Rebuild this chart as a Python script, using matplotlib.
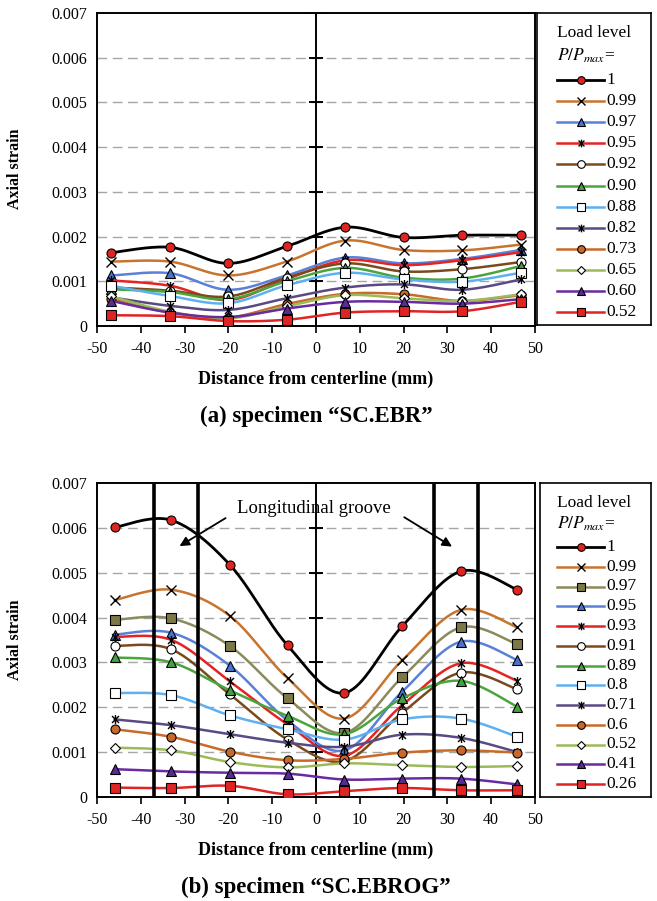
import numpy as np
import matplotlib
matplotlib.use("Agg")
import matplotlib.pyplot as plt
from matplotlib.path import Path

plt.rcParams['font.family'] = ['Liberation Serif', 'DejaVu Serif']
plt.rcParams['mathtext.fontset'] = 'stix'
plt.rcParams['axes.unicode_minus'] = False

# ---- data (strain values in units of 1e-3) ----
x_ebr = [-46.7, -33.3, -20.0, -6.7, 6.7, 20.0, 33.3, 46.7]
loads_ebr = ['1', '0.99', '0.97', '0.95', '0.92', '0.90', '0.88', '0.82',
             '0.73', '0.65', '0.60', '0.52']
strain_ebr = [
    [1.64, 1.76, 1.40, 1.78, 2.21, 1.98, 2.03, 2.03],
    [1.44, 1.44, 1.13, 1.44, 1.91, 1.70, 1.69, 1.82],
    [1.13, 1.18, 0.81, 1.13, 1.53, 1.40, 1.50, 1.70],
    [1.02, 0.90, 0.58, 1.05, 1.47, 1.36, 1.47, 1.65],
    [0.86, 0.79, 0.66, 1.08, 1.40, 1.22, 1.27, 1.43],
    [0.82, 0.76, 0.60, 1.00, 1.30, 1.08, 1.06, 1.34],
    [0.90, 0.67, 0.51, 0.91, 1.19, 1.04, 0.99, 1.19],
    [0.64, 0.45, 0.36, 0.62, 0.86, 0.93, 0.81, 1.04],
    [0.60, 0.30, 0.19, 0.49, 0.72, 0.71, 0.56, 0.69],
    [0.66, 0.32, 0.17, 0.44, 0.69, 0.62, 0.56, 0.71],
    [0.56, 0.30, 0.20, 0.39, 0.54, 0.54, 0.50, 0.60],
    [0.24, 0.22, 0.11, 0.14, 0.30, 0.33, 0.33, 0.54],
]

x_ebrog = [-46.0, -33.0, -19.7, -6.5, 6.5, 19.7, 33.0, 46.0]
loads_ebrog = ['1', '0.99', '0.97', '0.95', '0.93', '0.91', '0.89', '0.8',
               '0.71', '0.6', '0.52', '0.41', '0.26']
strain_ebrog = [
    [6.01, 6.17, 5.18, 3.38, 2.32, 3.81, 5.03, 4.62],
    [4.39, 4.62, 4.04, 2.65, 1.75, 3.05, 4.17, 3.78],
    [3.95, 3.98, 3.37, 2.20, 1.43, 2.67, 3.78, 3.40],
    [3.62, 3.66, 2.93, 1.71, 1.04, 2.35, 3.46, 3.05],
    [3.57, 3.50, 2.58, 1.62, 0.92, 2.05, 2.98, 2.59],
    [3.37, 3.29, 2.29, 1.28, 0.80, 1.88, 2.77, 2.40],
    [3.11, 3.00, 2.38, 1.81, 1.40, 2.20, 2.59, 2.01],
    [2.32, 2.27, 1.82, 1.51, 1.28, 1.73, 1.75, 1.34],
    [1.73, 1.60, 1.40, 1.21, 1.12, 1.39, 1.32, 1.00],
    [1.51, 1.34, 1.01, 0.82, 0.85, 0.99, 1.04, 0.99],
    [1.10, 1.04, 0.78, 0.66, 0.75, 0.71, 0.67, 0.69],
    [0.62, 0.57, 0.54, 0.52, 0.39, 0.41, 0.41, 0.28],
    [0.21, 0.20, 0.25, 0.06, 0.13, 0.20, 0.15, 0.15],
]
grooves = [-37, -27, 27, 37]

# ---- styles ----
ast = Path([(-1, -1), (1, 1), (-1, 1), (1, -1), (0, -1.3), (0, 1.3)],
           [Path.MOVETO, Path.LINETO] * 3)

RED = '#e02424'
black_s = ('#000000', 'o', RED)
orange_x = ('#c8742f', 'x', 'k')
blue_t = ('#5b80d8', '^', '#4a72d0')
red_a = ('#e52323', ast, 'k')
brown_o = ('#7b4a1c', 'o', 'white')
green_t = ('#4aa53e', '^', '#45a040')
lblue_s = ('#5fb0f0', 's', 'white')
purp_a = ('#5a4a84', ast, 'k')
orange_o = ('#c86a28', 'o', '#c8682a')
lgreen_d = ('#9bbb59', 'D', 'white')
purple_t = ('#6a2aa0', '^', '#5a2a98')
red_s = ('#e02424', 's', RED)
olive_s = ('#8a8a5c', 's', '#7c7848')

styles_ebr = [black_s, orange_x, blue_t, red_a, brown_o, green_t, lblue_s,
              purp_a, orange_o, lgreen_d, purple_t, red_s]
styles_ebrog = [black_s, orange_x, olive_s, blue_t, red_a, brown_o, green_t,
                lblue_s, purp_a, orange_o, lgreen_d, purple_t, red_s]


def smooth(x, y, n=40):
    # Excel-like smoothed line (Catmull-Rom bezier through the points)
    x = np.asarray(x, float)
    y = np.asarray(y, float)
    px = np.concatenate([[x[0]], x, [x[-1]]])
    py = np.concatenate([[y[0]], y, [y[-1]]])
    t = np.linspace(0, 1, n)
    xs, ys = [], []
    for i in range(len(x) - 1):
        p0 = np.array([px[i], py[i]])
        p1 = np.array([px[i + 1], py[i + 1]])
        p2 = np.array([px[i + 2], py[i + 2]])
        p3 = np.array([px[i + 3], py[i + 3]])
        c1 = p1 + (p2 - p0) / 6
        c2 = p2 - (p3 - p1) / 6
        b = ((1 - t) ** 3)[:, None] * p1 + (3 * (1 - t) ** 2 * t)[:, None] * c1 \
            + (3 * (1 - t) * t ** 2)[:, None] * c2 + (t ** 3)[:, None] * p2
        xs.append(b[:, 0])
        ys.append(b[:, 1])
    return np.concatenate(xs), np.concatenate(ys)


def mk_kw(st, size):
    col, m, fc = st
    kw = dict(marker=m, markersize=size, markeredgewidth=0.8)
    if m == 'x' or m is ast:
        kw.update(markeredgecolor='k', markerfacecolor='k', markeredgewidth=1.0)
    else:
        kw.update(markeredgecolor='k', markerfacecolor=fc)
    if m == 'D':
        kw['markersize'] = size * 0.75
    return kw


def draw_chart(ax, xs, data, styles):
    ax.set_xlim(-50, 50)
    ax.set_ylim(0, 0.007)
    ax.set_xticks(np.arange(-50, 51, 10))
    ax.set_yticks(np.arange(0, 0.0071, 0.001))
    ax.set_yticklabels(['0', '0.001', '0.002', '0.003', '0.004', '0.005', '0.006', '0.007'])
    ax.tick_params(axis='y', length=0, pad=7, labelsize=11.5)
    ax.tick_params(axis='x', direction='out', length=5, width=1.2, pad=6, labelsize=11.5)
    for s in ax.spines.values():
        s.set_linewidth(1.4)
    for yv in np.arange(0.001, 0.0065, 0.001):
        ax.axhline(yv, color='#a6a6a6', lw=1.0, ls=(0, (7, 4)), zorder=1)
    ax.axvline(0, color='k', lw=1.4, zorder=2)
    ax.plot(np.zeros(7), np.arange(0.001, 0.0071, 0.001), ls='none', marker='_',
            markersize=10, markeredgewidth=1.4, color='k', zorder=2)
    for i, (vals, st) in enumerate(zip(data, styles)):
        yv = np.array(vals) * 1e-3
        sx, sy = smooth(xs, yv)
        lw = 2.0 if i == 0 else 1.8
        ax.plot(sx, sy, color=st[0], lw=lw, zorder=3 + i * 0.1, solid_capstyle='round')
        ax.plot(xs, yv, ls='none', zorder=3.05 + i * 0.1, **mk_kw(st, 6.5))


def draw_legend(lax, labels, styles, y_title, y_first, step, x0, x1):
    lax.set_xticks([])
    lax.set_yticks([])
    for s in lax.spines.values():
        s.set_linewidth(1.2)
    w, h = lax.bbox.width, lax.bbox.height
    lax.set_xlim(0, w)
    lax.set_ylim(h, 0)
    lax.text(x0, y_title, 'Load level', fontsize=12.5, va='center', ha='left')
    lax.text(x0, y_title + (y_first - y_title) * 0.48, r'$P/P_{max}$=', fontsize=12.5,
             va='center', ha='left')
    for i, (lab, st) in enumerate(zip(labels, styles)):
        yy = y_first + i * step
        lax.plot([x0, x1], [yy, yy], color=st[0], lw=2.0 if i == 0 else 1.8)
        kw = mk_kw(st, 5.5)
        lax.plot([(x0 + x1) / 2], [yy], **kw)
        lax.text(x1 + 2, yy, lab, fontsize=12.5, va='center', ha='left')


fig = plt.figure(figsize=(6.57, 9.01), dpi=100)
W, H = 657, 901


def rect(l, t, r, b):
    return [l / W, 1 - b / H, (r - l) / W, (b - t) / H]


ax1 = fig.add_axes(rect(97, 13, 535, 326))
lax1 = fig.add_axes(rect(537, 13, 651, 325))
ax2 = fig.add_axes(rect(97, 483, 535, 797))
lax2 = fig.add_axes(rect(540, 483, 651, 797))

draw_chart(ax1, x_ebr, strain_ebr, styles_ebr)
draw_chart(ax2, x_ebrog, strain_ebrog, styles_ebrog)

for g in grooves:
    ax2.axvline(g, color='k', lw=2.6, zorder=10)

ax2.text(-0.5, 0.00643, 'Longitudinal groove', fontsize=13.5, ha='center', va='center', zorder=11)
ax2.annotate('', xy=(-31.7, 0.00556), xytext=(-20.1, 0.00625),
             arrowprops=dict(arrowstyle='-|>', color='k', lw=1.3, mutation_scale=14), zorder=11)
ax2.annotate('', xy=(31.6, 0.00555), xytext=(19.6, 0.00627),
             arrowprops=dict(arrowstyle='-|>', color='k', lw=1.3, mutation_scale=14), zorder=11)

draw_legend(lax1, loads_ebr, styles_ebr, 20, 67, 21.1, 20, 67)
draw_legend(lax2, loads_ebrog, styles_ebrog, 20, 64, 19.75, 17, 64)

for ax, ylab in ((ax1, 169), (ax2, 640)):
    fig.text(15 / W, 1 - ylab / H, 'Axial strain', rotation=90, fontsize=11.5,
             fontweight='bold', ha='center', va='center')

fig.text(316 / W, 1 - 379 / H, 'Distance from centerline (mm)', fontsize=13,
         fontweight='bold', ha='center', va='center')
fig.text(316 / W, 1 - 416 / H, '(a) specimen \u201cSC.EBR\u201d', fontsize=16.5,
         fontweight='bold', ha='center', va='center')
fig.text(316 / W, 1 - 850 / H, 'Distance from centerline (mm)', fontsize=13,
         fontweight='bold', ha='center', va='center')
fig.text(316 / W, 1 - 887 / H, '(b) specimen \u201cSC.EBROG\u201d', fontsize=16.5,
         fontweight='bold', ha='center', va='center')

fig.savefig('out.png', dpi=100)
